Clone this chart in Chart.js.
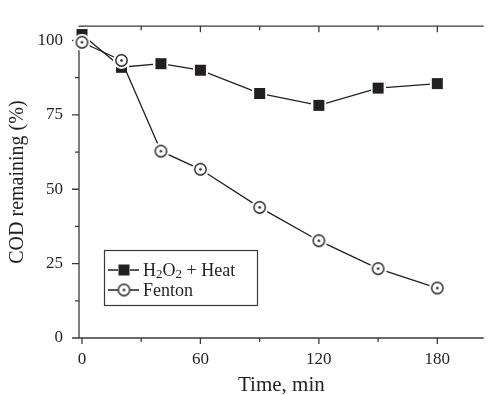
<!DOCTYPE html>
<html>
<head>
<meta charset="utf-8">
<script src="https://cdn.jsdelivr.net/npm/chart.js@4.4.0/dist/chart.umd.min.js"></script>
<style>
  html, body { margin: 0; padding: 0; background: #fff; }
  #wrap { width: 489px; height: 395px; }
</style>
</head>
<body>
<div id="wrap"><canvas id="chart" width="489" height="395"></canvas></div>
<script>
// values
const timeMin = [0, 20, 40, 60, 90, 120, 150, 180];
const heatValues = [102, 91, 92.2, 90, 82.2, 78.2, 84, 85.5];
const fentonValues = [99.4, 93.3, 62.8, 56.7, 43.9, 32.7, 23.3, 16.8];
const seriesLabels = ["H2O2 + Heat", "Fenton"];
const xTicks = [0, 30, 60, 90, 120, 150, 180];
const xLabelTicks = [0, 60, 120, 180];
const yTicks = [0, 12.5, 25, 37.5, 50, 62.5, 75, 87.5, 100];
const yLabelTicks = [0, 25, 50, 75, 100];
const xTitle = "Time, min";
const yTitle = "COD remaining (%)";

const ink = "#231f20";
const axisColor = "#3a3a3a";
const serif = "'Liberation Serif', 'Times New Roman', serif";

// markers with a small white halo so lines stop short of them
function squareMarker() {
    const c = document.createElement("canvas");
    c.width = c.height = 15;
    const g = c.getContext("2d");
    g.fillStyle = "#fff";
    g.fillRect(0, 0, 15, 15);
    g.fillStyle = ink;
    g.fillRect(2, 2, 11, 11);
    return c;
}

function circleMarker() {
    const c = document.createElement("canvas");
    c.width = c.height = 17;
    const g = c.getContext("2d");
    g.fillStyle = "#fff";
    g.beginPath(); g.arc(8.5, 8.5, 8.5, 0, 2 * Math.PI); g.fill();
    g.strokeStyle = ink; g.lineWidth = 1.4;
    g.beginPath(); g.arc(8.5, 8.5, 5.7, 0, 2 * Math.PI); g.stroke();
    g.fillStyle = ink;
    g.beginPath(); g.arc(8.5, 8.5, 1.3, 0, 2 * Math.PI); g.fill();
    return c;
}

const markers = [squareMarker(), circleMarker()];

// text with digits after a letter drawn as subscripts
function drawChem(ctx, text, x, y, size) {
    let prev = "";
    for (const ch of text) {
        const sub = /[0-9]/.test(ch) && /[A-Za-z]/.test(prev);
        ctx.font = (sub ? Math.round(size * 0.72) : size) + "px " + serif;
        ctx.fillText(ch, x, sub ? y + 4 : y);
        x += ctx.measureText(ch).width;
        prev = ch;
    }
}

const axesPlugin = {
    id: "axesFrame",
    beforeDatasetsDraw(chart) {
        const { ctx, chartArea: a, scales: { x, y } } = chart;
        ctx.save();
        ctx.strokeStyle = axisColor;
        ctx.lineWidth = 1.3;
        ctx.beginPath();
        ctx.moveTo(a.left, a.top); ctx.lineTo(a.right, a.top);
        ctx.moveTo(a.left, a.top); ctx.lineTo(a.left, a.bottom);
        ctx.moveTo(a.left - 0.6, a.bottom); ctx.lineTo(a.right, a.bottom);
        xTicks.forEach(v => {
            const px = x.getPixelForValue(v);
            const major = xLabelTicks.includes(v);
            ctx.moveTo(px, a.bottom); ctx.lineTo(px, a.bottom + (major ? 6 : 4));
            ctx.moveTo(px, a.top); ctx.lineTo(px, a.top + (major ? 6 : 4));
        });
        yTicks.forEach(v => {
            const py = y.getPixelForValue(v);
            const major = yLabelTicks.includes(v);
            ctx.moveTo(a.left, py); ctx.lineTo(a.left - (major ? 7 : 4), py);
        });
        ctx.stroke();
        ctx.restore();
    },
    afterDraw(chart) {
        const ctx = chart.ctx;
        ctx.save();
        // legend box
        ctx.fillStyle = "#fff";
        ctx.fillRect(104, 250, 154, 56);
        ctx.strokeStyle = axisColor;
        ctx.lineWidth = 1.2;
        ctx.strokeRect(104.5, 250.5, 153, 55);
        const rows = [270, 290];
        chart.data.datasets.forEach((ds, i) => {
            const ry = rows[i];
            ctx.strokeStyle = ink;
            ctx.lineWidth = 1.3;
            const m = markers[i];
            ctx.drawImage(m, 124 - m.width / 2, ry - m.height / 2);
            ctx.beginPath();
            ctx.moveTo(108, ry); ctx.lineTo(124 - 6, ry);
            ctx.moveTo(124 + 6, ry); ctx.lineTo(139, ry);
            ctx.stroke();
            ctx.fillStyle = ink;
            ctx.textBaseline = "middle";
            ctx.textAlign = "left";
            drawChem(ctx, ds.label, 143, ry + 1, 18);
        });
        ctx.restore();
    }
};

new Chart(document.getElementById("chart").getContext("2d"), {
    type: "line",
    data: {
        labels: timeMin,
        datasets: [
            {
                label: seriesLabels[0],
                data: timeMin.map((t, i) => ({ x: t, y: heatValues[i] })),
                borderColor: ink,
                borderWidth: 1.3,
                pointStyle: markers[0],
                order: 1,
                clip: false,
            },
            {
                label: seriesLabels[1],
                data: timeMin.map((t, i) => ({ x: t, y: fentonValues[i] })),
                borderColor: ink,
                borderWidth: 1.3,
                pointStyle: markers[1],
                order: 0,
                clip: false,
            },
        ],
    },
    options: {
        responsive: false,
        animation: false,
        devicePixelRatio: 1,
        layout: { padding: { left: 0, right: 0, top: 13, bottom: 0 } },
        plugins: { legend: { display: false }, tooltip: { enabled: false } },
        scales: {
            x: {
                type: "linear",
                min: -1.5,
                max: 203.5,
                afterBuildTicks: s => { s.ticks = xTicks.map(v => ({ value: v })); },
                afterFit: s => { s.height = 57; },
                grid: { display: false, drawTicks: false },
                border: { display: false },
                ticks: {
                    autoSkip: false,
                    maxRotation: 0,
                    padding: 11,
                    color: ink,
                    font: { family: serif, size: 17 },
                    callback: v => (xLabelTicks.includes(v) ? String(v) : ""),
                },
                title: {
                    display: true,
                    text: xTitle,
                    color: ink,
                    font: { family: serif, size: 21, lineHeight: 0.9 },
                    padding: { top: 0, bottom: 0 },
                },
            },
            y: {
                min: 0,
                max: 104.8,
                afterBuildTicks: s => { s.ticks = yTicks.map(v => ({ value: v })); },
                afterFit: s => { s.width = 79; },
                grid: { display: false, drawTicks: false },
                border: { display: false },
                ticks: {
                    autoSkip: false,
                    padding: 16,
                    color: ink,
                    font: { family: serif, size: 17 },
                    callback: v => (yLabelTicks.includes(v) ? String(v) : ""),
                },
                title: {
                    display: true,
                    text: yTitle,
                    color: ink,
                    font: { family: serif, size: 20 },
                    padding: { top: 6, bottom: 0 },
                },
            },
        },
    },
    plugins: [axesPlugin],
});
</script>
</body>
</html>
